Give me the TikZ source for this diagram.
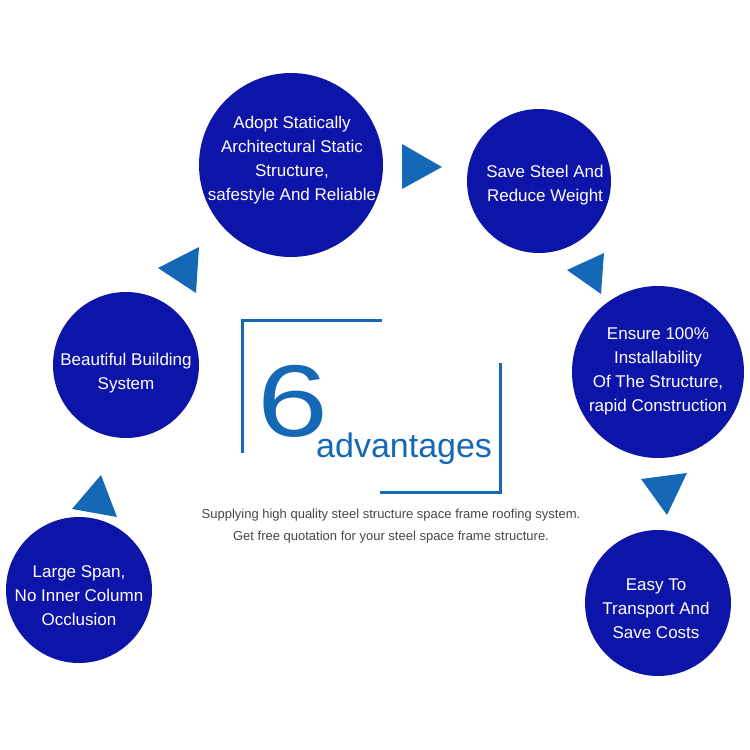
\documentclass[tikz,border=0pt]{standalone}
\usepackage{fontspec}
\setmainfont{Liberation Sans}
\usepackage{graphicx}
\definecolor{advdark}{RGB}{13, 20, 168}
\definecolor{advblue}{RGB}{21, 104, 182}
\definecolor{advgray}{RGB}{70, 70, 70}
\usetikzlibrary{positioning}

\begin{document}
\begin{tikzpicture}[x=1pt, y=-1pt,
    bubble/.style={circle, fill=advdark, inner sep=0pt},
    btext/.style={align=center, text=white, inner sep=0pt,
                  font=\fontsize{17}{24}\selectfont},
    tri/.style={fill=advblue},
    frame/.style={draw=advblue, line width=3pt},
    note/.style={align=center, text=advgray, inner sep=0pt,
                 font=\fontsize{13}{22}\selectfont}
  ]
    \useasboundingbox (0,0) rectangle (750,750);

    % circles
    \node[bubble, minimum size=184pt] (adopt) at (291,165) {};
    \node[bubble, minimum size=144pt] (save) at (539,181) {};
    \node[bubble, minimum size=172pt] (ensure) at (658,372) {};
    \node[bubble, minimum size=146pt] (easy) at (658,603) {};
    \node[bubble, minimum size=146pt] (beauty) at (126,365) {};
    \node[bubble, minimum size=146pt] (span) at (79,590) {};

    \node[btext] (adoptT) at (292,160) {Adopt Statically\\Architectural Static\\Structure,\\safestyle And Reliable};
    \node[btext] (saveT) at (545,185) {Save Steel And\\Reduce Weight};
    \node[btext] (ensureT) at (658,371) {Ensure 100\%\\Installability\\Of The Structure,\\rapid Construction};
    \node[btext] (easyT) at (656,609) {Easy To\\Transport And\\Save Costs};
    \node[btext] (beautyT) at (126,373) {Beautiful Building\\System};
    \node[btext] (spanT) at (79,596) {Large Span,\\No Inner Column\\Occlusion};

    % triangles
    \fill[tri] (402,144) -- (442,167) -- (402,189) -- cycle;
    \fill[tri] (158,268) -- (199,247) -- (196,293) -- cycle;
    \fill[tri] (567,270) -- (604,253) -- (601,294) -- cycle;
    \fill[tri] (641,479) -- (687,473) -- (667,515) -- cycle;
    \fill[tri] (101,475) -- (72,509) -- (117,517) -- cycle;

    % centre
    \draw[frame] (382,320) -- (242,320) -- (242,453);
    \draw[frame] (500,363) -- (500,492) -- (380,492);
    \node[text=advblue, inner sep=0pt, font=\fontsize{102}{102}\selectfont] (six) at (293,401) {\scalebox{1.25}[1]{6}};
    \node[text=advblue, inner sep=0pt, anchor=base west, font=\fontsize{34}{34}\selectfont] (adv) at (316,457) {advantages};
    \node[note] (info) at (391,526) {Supplying high quality steel structure space frame roofing system.\\Get free quotation for your steel space frame structure.};
\end{tikzpicture}
\end{document}
